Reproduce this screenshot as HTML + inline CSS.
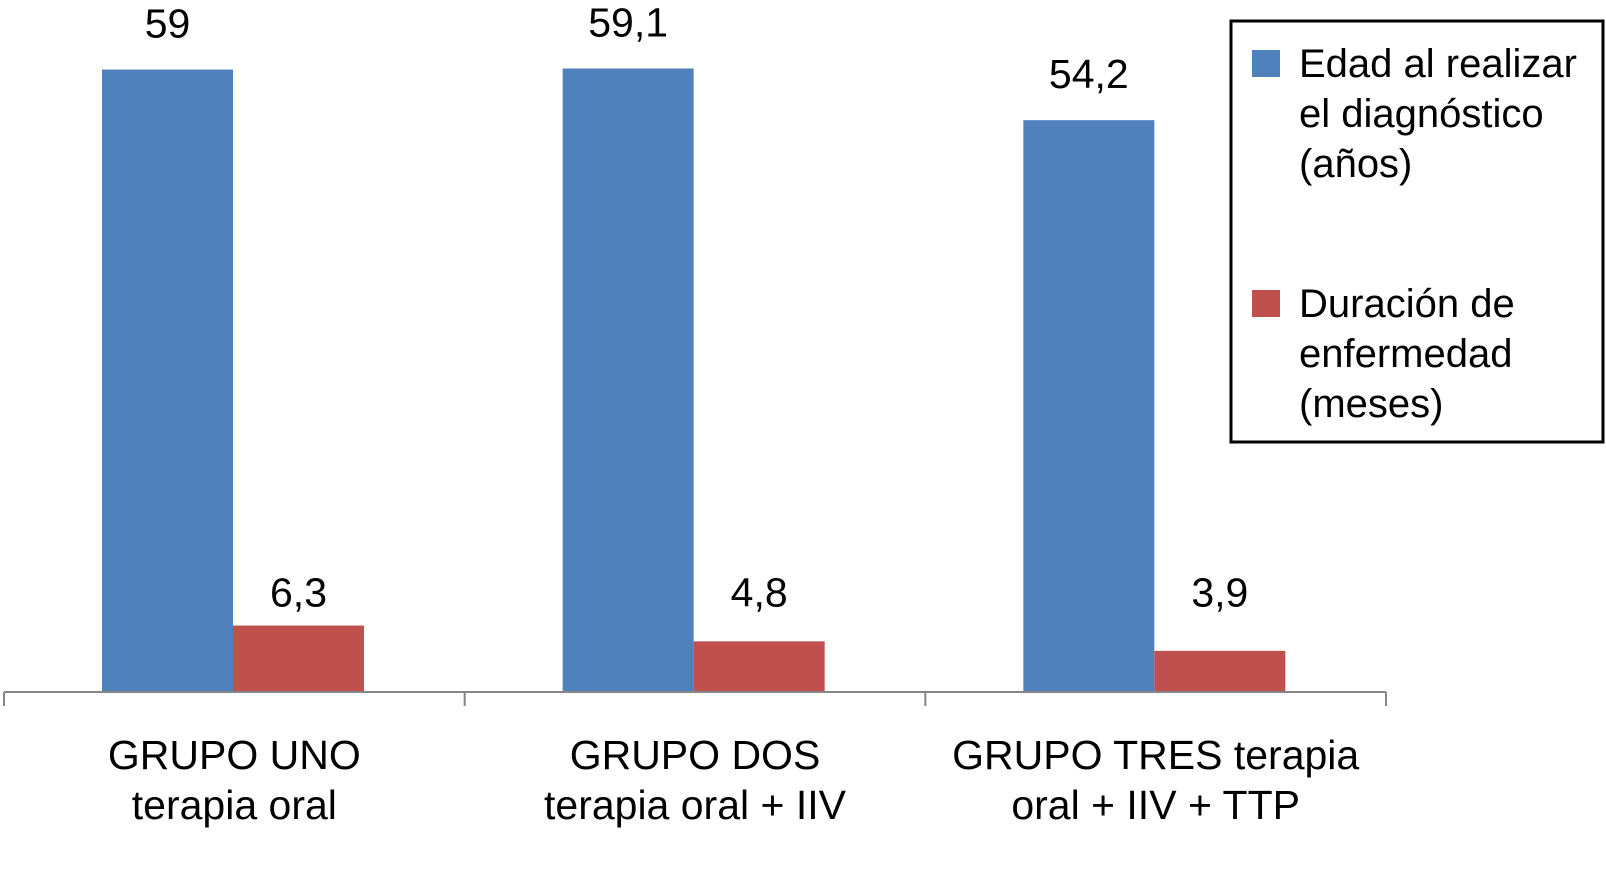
<!DOCTYPE html>
<html><head><meta charset="utf-8"><style>
html,body{margin:0;padding:0;background:#fff;}
svg{display:block;font-family:"Liberation Sans",Arial,sans-serif;}
</style></head><body>
<svg id="chart" width="1606" height="878" viewBox="0 0 1606 878"></svg>
<script>
const categoriesLine1 = ["GRUPO UNO", "GRUPO DOS", "GRUPO TRES terapia"];
const categoriesLine2 = ["terapia oral", "terapia oral + IIV", "oral + IIV + TTP"];
const edadValues = [59, 59.1, 54.2];
const duracionValues = [6.3, 4.8, 3.9];
const edadLabels = ["59", "59,1", "54,2"];
const duracionLabels = ["6,3", "4,8", "3,9"];
const seriesNames = [["Edad al realizar","el diagnóstico","(años)"],["Duración de","enfermedad","(meses)"]];

const NS = "http://www.w3.org/2000/svg";
const svg = document.getElementById('chart');
const axisY = 692, plotLeft = 4, plotRight = 1386, unit = 10.55;
const groupW = (plotRight - plotLeft) / categoriesLine1.length;
const barW = 131;
function y(v){ return axisY - v * unit; }
function gx(i){ return plotLeft + i * groupW; }
function mk(tag, attrs){ const e = document.createElementNS(NS, tag); for (const k in attrs) e.setAttribute(k, attrs[k]); svg.appendChild(e); return e; }

const colors = ["#4f81bd", "#c0504d"];
const series = [edadValues, duracionValues];
const labels = [edadLabels, duracionLabels];
const redLabelY = y(Math.max.apply(null, duracionValues)) - 19;
for (let s = 0; s < 2; s++) {
  for (let i = 0; i < categoriesLine1.length; i++) {
    const x = gx(i) + 98 + s * barW;
    const r = mk('rect', {x: x, y: y(series[s][i]), width: barW, height: series[s][i] * unit, fill: colors[s]});
    
    
    const ly = s === 0 ? y(series[s][i]) - 32 : redLabelY;
    const t = mk('text', {x: x + barW / 2, y: ly, 'font-size': 41, 'text-anchor': 'middle', fill: '#000'});
    t.textContent = labels[s][i];
    
    
  }
}
const ax = mk('line', {x1: plotLeft, x2: plotRight, y1: axisY, y2: axisY, stroke: '#868686', 'stroke-width': 2});


for (let i = 0; i <= categoriesLine1.length; i++) {
  const tk = mk('line', {x1: gx(i), x2: gx(i), y1: axisY, y2: axisY + 14, stroke: '#868686', 'stroke-width': 2});
  
  
}
for (let i = 0; i < categoriesLine1.length; i++) {
  const cx = gx(i) + groupW / 2;
  const t = mk('text', {x: cx, y: 769, 'font-size': 41, 'text-anchor': 'middle', fill: '#000'});
  t.textContent = categoriesLine1[i];
  
  
  const t2 = mk('text', {x: cx, y: 819, 'font-size': 41, 'text-anchor': 'middle', fill: '#000'});
  t2.textContent = categoriesLine2[i];
  
  
}
// legend
const lg = mk('rect', {x: 1231, y: 21, width: 372, height: 421, fill: '#fff', stroke: '#000', 'stroke-width': 3});


const legY = [50, 290];
for (let s = 0; s < 2; s++) {
  const sw = mk('rect', {x: 1252, y: legY[s], width: 28, height: 27, fill: colors[s]});
  
  
  for (let l = 0; l < 3; l++) {
    const t = mk('text', {x: 1299, y: legY[s] + 27 + l * 50, 'font-size': 40, fill: '#000'});
    t.textContent = seriesNames[s][l];
    
    
  }
}
</script>
</body></html>
